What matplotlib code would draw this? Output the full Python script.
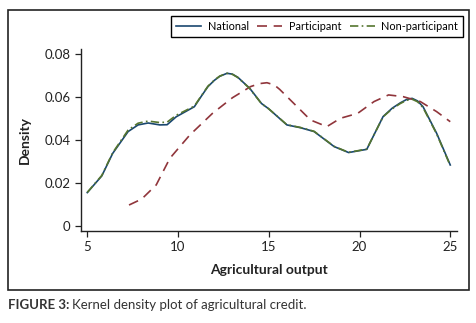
import matplotlib.pyplot as plt
from matplotlib.patches import Rectangle

# Valeurs
x_nat = [5.0, 5.8, 6.4, 7.25, 7.8, 8.35, 9.0, 9.4, 9.9, 10.9, 11.3, 11.65, 12.0, 12.3,
         12.7, 13.0, 13.3, 13.95, 14.6, 15.0, 16.0, 16.75, 17.5, 18.6, 19.4, 20.4,
         21.3, 21.8, 22.25, 22.6, 22.9, 23.2, 23.5, 24.25, 25.0]
y_nat = [0.0154, 0.0232, 0.0337, 0.0439, 0.0470, 0.0479, 0.0470, 0.0471, 0.0508,
         0.0555, 0.0606, 0.0649, 0.0678, 0.0697, 0.0711, 0.0707, 0.0692, 0.0641,
         0.0570, 0.0545, 0.0470, 0.0457, 0.0439, 0.0369, 0.0341, 0.0356, 0.0509,
         0.0548, 0.0573, 0.0589, 0.0594, 0.0582, 0.0555, 0.0431, 0.0283]

x_non = [5.0, 5.8, 6.4, 7.25, 7.8, 8.35, 9.0, 9.4, 9.9, 10.9, 11.3, 11.65, 12.0, 12.3,
         12.7, 13.0, 13.3, 13.95, 14.6, 15.0, 16.0, 16.75, 17.5, 18.6, 19.4, 20.4,
         21.3, 21.8, 22.25, 22.6, 22.9, 23.2, 23.5, 24.25, 25.0]
y_non = [0.0155, 0.0234, 0.0340, 0.0446, 0.0478, 0.0488, 0.0481, 0.0483, 0.0515,
         0.0558, 0.0608, 0.0651, 0.0679, 0.0698, 0.0711, 0.0706, 0.0691, 0.0640,
         0.0569, 0.0545, 0.0471, 0.0458, 0.0440, 0.0370, 0.0342, 0.0357, 0.0508,
         0.0545, 0.0570, 0.0585, 0.0590, 0.0578, 0.0551, 0.0428, 0.0280]

x_par = [7.3, 8.0, 8.8, 9.55, 10.65, 11.9, 13.0, 14.0, 14.5, 14.9, 15.3, 15.6, 16.6,
         17.3, 18.2, 18.95, 19.9, 20.8, 21.6, 22.4, 23.35, 24.25, 25.0]
y_par = [0.0096, 0.0124, 0.0190, 0.0314, 0.0423, 0.0524, 0.0597, 0.0649, 0.0663,
         0.0667, 0.0657, 0.0636, 0.0552, 0.0493, 0.0462, 0.0501, 0.0524, 0.0579,
         0.0610, 0.0602, 0.0579, 0.0532, 0.0485]

xticks = [5, 10, 15, 20, 25]
yticks = [0, 0.02, 0.04, 0.06, 0.08]
ytick_labels = ['0', '0.02', '0.04', '0.06', '0.08']

plt.rcParams['font.family'] = ['Lato', 'DejaVu Sans']

fig = plt.figure(figsize=(4.76, 3.23), dpi=100)
ax = fig.add_axes([0.170, 0.285, 0.790, 0.563])

ax.plot(x_nat, y_nat, color='#1a476f', lw=1.2, label='National')
ax.plot(x_par, y_par, color='#90353b', lw=1.2, ls=(0, (6, 4)), label='Participant')
ax.plot(x_non, y_non, color='#55752f', lw=1.2, ls=(0, (5, 2, 1, 2)), label='Non-participant')

ax.set_xlim(4.65, 25.37)
ax.set_ylim(-0.0025, 0.0824)
ax.set_xticks(xticks)
ax.set_yticks(yticks)
ax.set_yticklabels(ytick_labels)
ax.tick_params(labelsize=9.5, length=4, width=0.9, color='#222222', labelcolor='#222222')
for s in ['top', 'right']:
    ax.spines[s].set_visible(False)
for s in ['left', 'bottom']:
    ax.spines[s].set_linewidth(1.0)
    ax.spines[s].set_color('#222222')

ax.set_xlabel('Agricultural output', fontsize=10, fontweight='bold', color='#222222', labelpad=8)
ax.set_ylabel('Density', fontsize=10, fontweight='bold', color='#222222', labelpad=10)

leg = fig.legend(loc='upper right', bbox_to_anchor=(0.973, 0.950), ncol=3, fontsize=7.8,
                 frameon=True, fancybox=False, edgecolor='black', framealpha=1,
                 handlelength=2.3, columnspacing=0.8, handletextpad=0.6,
                 borderpad=0.45, borderaxespad=0)
leg.get_frame().set_linewidth(1.0)

# Cadre autour du graphique
fig.patches.append(Rectangle((0.0168, 0.102), 0.968, 0.867, transform=fig.transFigure,
                             fill=False, edgecolor='#222222', lw=1.2))

# Legende de la figure
t1 = fig.text(0.0168, 0.055, 'FIGURE 3:', fontsize=9.5, fontweight='bold', color='#333333', va='center')
fig.canvas.draw()
bb = t1.get_window_extent()
x2 = fig.transFigure.inverted().transform((bb.x1 + 3, 0))[0]
fig.text(x2, 0.055, 'Kernel density plot of agricultural credit.', fontsize=9.5,
         color='#333333', va='center')

plt.savefig('out.png', dpi=100)
